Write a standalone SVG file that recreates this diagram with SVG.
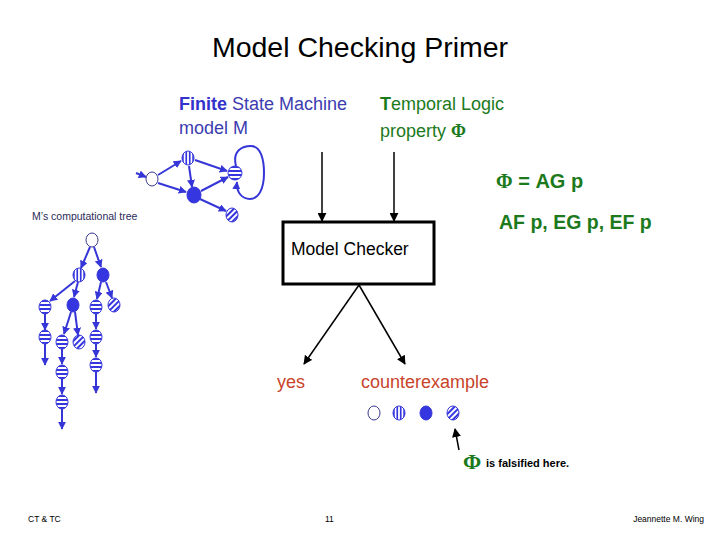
<svg xmlns="http://www.w3.org/2000/svg" width="720" height="540" viewBox="0 0 720 540">
<style>
text{font-family:"Liberation Sans","Open Sans",sans-serif}
.e{stroke:#3636d8;stroke-width:2;fill:none;marker-end:url(#ba)}
.k{stroke:#000;stroke-width:1.5;fill:none;marker-end:url(#ka)}
.o{fill:#fff;stroke:#3a3a90;stroke-width:1}
.f{fill:#3636e0;stroke:#3636d8;stroke-width:1}
.h{fill:url(#hs);stroke:#3636d8;stroke-width:1}
.v{fill:url(#vs);stroke:#3636d8;stroke-width:1}
.d{fill:url(#ds);stroke:#3636d8;stroke-width:1}
.blue{fill:#3c3cb0}
.green{fill:#1c7a1c}
.red{fill:#c9432b}
</style>
<defs>
<marker id="ba" viewBox="0 0 10 10" refX="9" refY="5" markerWidth="4" markerHeight="4" orient="auto" markerUnits="strokeWidth"><path d="M0,0L10,5L0,10z" fill="#3636d8"/></marker>
<marker id="ka" viewBox="0 0 10 10" refX="9" refY="5" markerWidth="6" markerHeight="6" orient="auto" markerUnits="strokeWidth"><path d="M0,0L10,5L0,10z" fill="#000"/></marker>
<pattern id="hs" patternUnits="objectBoundingBox" patternContentUnits="objectBoundingBox" width="1" height="0.2857"><rect width="1" height="0.2857" fill="#fff"/><rect width="1" height="0.143" fill="#3636e0"/></pattern>
<pattern id="vs" patternUnits="objectBoundingBox" patternContentUnits="objectBoundingBox" width="0.2857" height="1"><rect width="0.2857" height="1" fill="#fff"/><rect width="0.143" height="1" fill="#3636e0"/></pattern>
<pattern id="ds" patternUnits="userSpaceOnUse" width="4" height="4" patternTransform="rotate(45)"><rect width="4" height="4" fill="#fff"/><rect width="2" height="4" fill="#3636e0"/></pattern>
</defs>

<text x="360" y="57" font-size="28.5" text-anchor="middle" fill="#000">Model Checking Primer</text>

<g id="fsm-label">
<text x="179" y="110" font-size="18" class="blue"><tspan font-weight="bold" fill="#3333cc">Finite</tspan> State Machine</text>
<text x="179" y="134" font-size="18" class="blue">model M</text>
</g>
<g id="tl-label">
<text x="380" y="110" font-size="18" class="green"><tspan font-weight="bold">T</tspan>emporal Logic</text>
<text x="380" y="137" font-size="18" class="green">property <tspan font-family="Liberation Serif,serif" font-weight="bold">Φ</tspan></text>
</g>
<g id="formulas">
<text x="496" y="188" font-size="20" font-weight="bold" class="green"><tspan font-family="Liberation Serif,serif">Φ</tspan> = AG p</text>
<text x="499" y="229" font-size="19.5" font-weight="bold" class="green">AF p, EG p, EF p</text>
</g>
<text x="32" y="220" font-size="10.5" fill="#2a2a5a">M’s computational tree</text>

<g id="connectors">
<!-- FSM -->
<line x1="136" y1="173" x2="146" y2="177" class="e"/>
<line x1="158" y1="175" x2="181" y2="161" class="e"/>
<line x1="158" y1="183" x2="186" y2="192" class="e"/>
<line x1="189" y1="166" x2="192" y2="187" class="e"/>
<line x1="195" y1="160" x2="227" y2="171" class="e"/>
<line x1="201" y1="191" x2="228" y2="177" class="e"/>
<line x1="200" y1="199" x2="226" y2="211" class="e"/>
<path d="M236,166 C232,150 243,146 251,146 C261,146 264,160 264,173 C264,190 258,199 250,199 C242,199 236,192 237,182" class="e"/>
<!-- tree -->
<line x1="90" y1="247" x2="81" y2="268" class="e"/>
<line x1="94" y1="247" x2="101" y2="267" class="e"/>
<line x1="75" y1="281" x2="50" y2="301" class="e"/>
<line x1="78" y1="282" x2="74" y2="297" class="e"/>
<line x1="101" y1="282" x2="97" y2="299" class="e"/>
<line x1="106" y1="282" x2="112" y2="298" class="e"/>
<line x1="45" y1="314" x2="45" y2="330" class="e"/>
<line x1="45" y1="344" x2="45" y2="365" class="e"/>
<line x1="71" y1="312" x2="64" y2="334" class="e"/>
<line x1="75" y1="312" x2="78" y2="335" class="e"/>
<line x1="62" y1="349" x2="62" y2="364" class="e"/>
<line x1="62" y1="379" x2="62" y2="394" class="e"/>
<line x1="62" y1="409" x2="62" y2="429" class="e"/>
<line x1="96" y1="314" x2="96" y2="329" class="e"/>
<line x1="96" y1="344" x2="96" y2="357" class="e"/>
<line x1="96" y1="372" x2="96" y2="393" class="e"/>
<!-- model checker -->
<line x1="322" y1="152" x2="322" y2="221" class="k"/>
<line x1="394" y1="152" x2="394" y2="221" class="k"/>
<line x1="359" y1="285" x2="304" y2="364" class="k"/>
<line x1="359" y1="285" x2="405" y2="364" class="k"/>
<line x1="459" y1="450" x2="455" y2="429" class="k"/>
</g>

<g id="fsm-nodes">
<ellipse id="s0" cx="152" cy="179" rx="6" ry="7" class="o"/>
<ellipse id="s1" cx="188" cy="158" rx="6" ry="7" class="v"/>
<ellipse id="s2" cx="194" cy="195" rx="7" ry="8" class="f"/>
<ellipse id="s3" cx="235" cy="173" rx="7" ry="7" class="h"/>
<ellipse id="s4" cx="232" cy="215" rx="6" ry="7" class="d"/>
</g>

<g id="tree-nodes">
<ellipse cx="92" cy="240" rx="6" ry="7" class="o"/>
<ellipse cx="79" cy="275" rx="6" ry="7" class="v"/>
<ellipse cx="103" cy="275" rx="6" ry="7" class="f"/>
<ellipse cx="45" cy="307" rx="6" ry="7" class="h"/>
<ellipse cx="73" cy="305" rx="6" ry="7" class="f"/>
<ellipse cx="96" cy="307" rx="6" ry="7" class="h"/>
<ellipse cx="114" cy="305" rx="6" ry="7" class="d"/>
<ellipse cx="45" cy="337" rx="6" ry="7" class="h"/>
<ellipse cx="62" cy="342" rx="6" ry="7" class="h"/>
<ellipse cx="79" cy="342" rx="6" ry="7" class="d"/>
<ellipse cx="96" cy="337" rx="6" ry="7" class="h"/>
<ellipse cx="62" cy="372" rx="6" ry="7" class="h"/>
<ellipse cx="96" cy="365" rx="6" ry="7" class="h"/>
<ellipse cx="62" cy="402" rx="6" ry="7" class="h"/>
</g>

<g id="model-checker">
<rect x="283" y="222" width="151" height="62" fill="#fff" stroke="#000" stroke-width="3"/>
<text x="291" y="255" font-size="17.5" fill="#000">Model Checker</text>
</g>

<g id="yes"><text x="277" y="388" font-size="18" class="red">yes</text></g>
<g id="counterexample">
<text x="361" y="388" font-size="18" class="red">counterexample</text>
<ellipse cx="374" cy="413" rx="6" ry="7" class="o"/>
<ellipse cx="399" cy="413" rx="6" ry="7" class="v"/>
<ellipse cx="426" cy="413" rx="6" ry="7" class="f"/>
<ellipse cx="453" cy="413" rx="6" ry="7" class="d"/>
</g>
<g id="falsified">
<text x="463" y="469" font-size="22" font-weight="bold" font-family="Liberation Serif,serif" class="green" style="font-family:'Liberation Serif',serif">Φ</text>
<text x="486" y="467" font-size="11" font-weight="bold" fill="#000">is falsified here.</text>
</g>

<g id="footer" fill="#000" font-size="8.5">
<text x="28" y="522">CT &amp; TC</text>
<text x="325" y="522">11</text>
<text x="704" y="522" text-anchor="end">Jeannette M. Wing</text>
</g>
</svg>
